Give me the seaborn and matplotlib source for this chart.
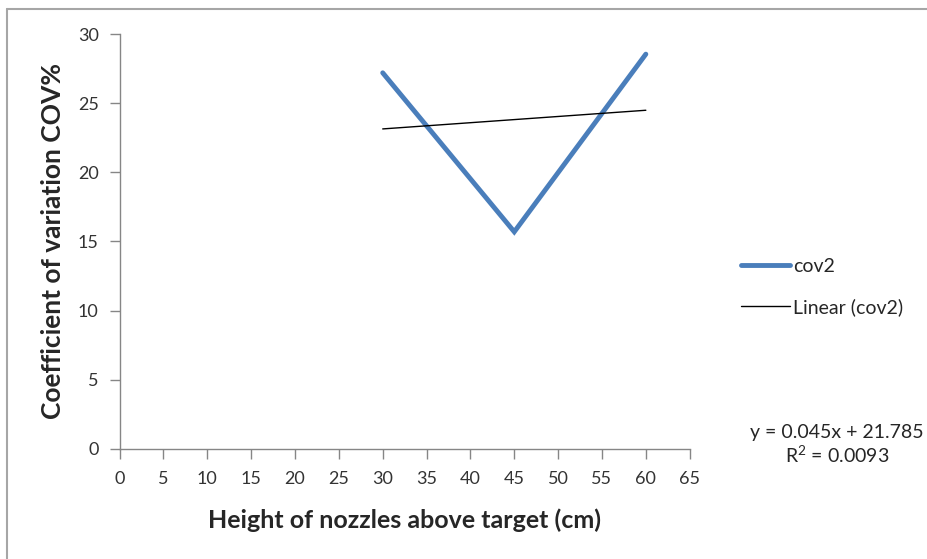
import matplotlib
matplotlib.use("Agg")
import matplotlib.pyplot as plt
from matplotlib.lines import Line2D
import seaborn as sns
import pandas as pd

# datos
heights = [30, 45, 60]
cov2 = [27.2, 15.7, 28.55]
eq_text = "y = 0.045x + 21.785"
r2_text = "R$^2$ = 0.0093"

df = pd.DataFrame({"height": heights, "cov2": cov2})

sns.set_style("white")
plt.rcParams["font.family"] = ["Lato", "DejaVu Sans"]
plt.rcParams["mathtext.fontset"] = "custom"
plt.rcParams["mathtext.rm"] = "Lato"

fig = plt.figure(figsize=(9.27, 5.59), dpi=100)
ax = fig.add_axes([0.129, 0.197, 0.615, 0.742])

blue = "#4a7ebb"
sns.lineplot(data=df, x="height", y="cov2", ax=ax, color=blue, linewidth=3.5,
             solid_capstyle="round", solid_joinstyle="miter")
# linea de tendencia (ajuste lineal)
sns.regplot(data=df, x="height", y="cov2", ax=ax, ci=None, scatter=False,
            line_kws={"color": "black", "linewidth": 1})

ax.set_xlim(0, 65)
ax.set_ylim(0, 30)
ax.set_xticks(range(0, 70, 5))
ax.set_yticks(range(0, 35, 5))
for s in ["top", "right"]:
    ax.spines[s].set_visible(False)
for s in ["left", "bottom"]:
    ax.spines[s].set_color("#868686")
    ax.spines[s].set_linewidth(1)
ax.tick_params(axis="both", which="major", direction="out", length=7, width=1,
               color="#868686", labelsize=13, labelcolor="#333333",
               bottom=True, left=True)
ax.tick_params(axis="x", pad=9)
ax.tick_params(axis="y", pad=8)
ax.set_xlabel("Height of nozzles above target (cm)", fontsize=18, fontweight="bold", labelpad=15)
ax.set_ylabel("Coefficient of variation COV%", fontsize=19, fontweight="bold", labelpad=9)

handles = [Line2D([], [], color=blue, linewidth=3.5),
           Line2D([], [], color="black", linewidth=1)]
fig.legend(handles, ["cov2", "Linear (cov2)"], loc="center left",
           bbox_to_anchor=(0.781, 0.487), frameon=False, fontsize=14,
           handlelength=2.5, handletextpad=0.15, labelspacing=1.2)

fig.text(0.903, 0.227, eq_text, ha="center", va="center", fontsize=14)
fig.text(0.903, 0.186, r2_text, ha="center", va="center", fontsize=14)

# borde (solo arriba e izquierda, el resto queda recortado)
fig.lines.append(Line2D([0.0075, 0.0075], [0, 0.984], transform=fig.transFigure,
                        color="#a6a6a6", linewidth=1.5))
fig.lines.append(Line2D([0.0075, 1], [0.984, 0.984], transform=fig.transFigure,
                        color="#a6a6a6", linewidth=1.5))

fig.savefig("out.png", dpi=100)
